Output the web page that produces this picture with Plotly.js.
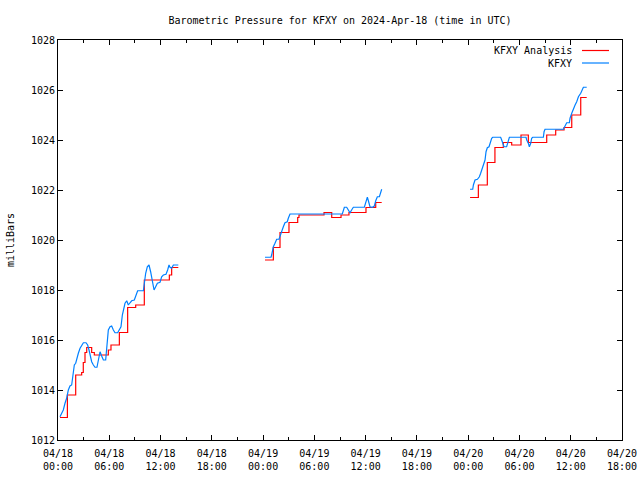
<!DOCTYPE html>
<html>
<head>
<meta charset="utf-8">
<script src="https://cdn.plot.ly/plotly-3.0.1.min.js"></script>
<style>html,body{margin:0;padding:0;background:#fff;}#chart{width:640px;height:480px;}</style>
</head>
<body>
<div id="chart"></div>
<script>
// Hours since 2024-04-18 00:00 UTC
// KFXY Analysis (step line), three segments
var anaHours1 = [0.23, 1.1, 2.07, 2.77, 2.96, 3.16, 3.36, 3.94, 4.25, 5.89, 6.2, 7.18, 8.15, 9.09, 10.1, 13.03, 13.3, 14.08];
var anaMb1    = [1012.9, 1013.8, 1014.6, 1014.7, 1015.1, 1015.5, 1015.7, 1015.5, 1015.4, 1015.6, 1015.8, 1016.3, 1017.3, 1017.4, 1018.4, 1018.6, 1018.9, 1018.9];
var anaHours2 = [24.22, 25.2, 25.98, 27.03, 28.05, 28.2, 31.13, 32.03, 33.12, 34.05, 36.04, 37.18, 37.88];
var anaMb2    = [1019.2, 1019.7, 1020.3, 1020.7, 1020.9, 1021.0, 1021.1, 1020.9, 1021.0, 1021.1, 1021.3, 1021.5, 1021.5];
var anaHours3 = [48.22, 49.19, 50.24, 51.13, 52.11, 53.09, 54.18, 55.04, 57.19, 58.24, 59.22, 60.12, 61.17, 61.87];
var anaMb3    = [1021.7, 1022.2, 1023.1, 1023.7, 1023.9, 1023.8, 1024.2, 1023.9, 1024.2, 1024.4, 1024.5, 1025.0, 1025.7, 1025.7];

// KFXY observations, three segments
var obsHours1 = [0.23,0.43,0.62,0.82,1.01,1.21,1.40,1.60,1.79,1.91,2.07,2.19,2.38,2.58,2.77,2.97,3.28,3.47,3.63,3.78,3.94,4.14,4.33,4.56,4.72,4.92,5.11,5.31,5.58,5.73,5.89,6.09,6.28,6.48,6.67,6.98,7.18,7.37,7.53,7.69,7.84,8.04,8.23,8.43,8.62,8.93,9.13,9.32,9.99,10.10,10.26,10.45,10.65,10.84,11.04,11.24,11.43,11.63,11.94,12.13,12.33,12.64,12.83,12.99,13.11,13.30,13.50,13.69,14.08];
var obsMb1    = [1012.93,1013.07,1013.2,1013.47,1013.67,1014.0,1014.16,1014.2,1014.73,1015.0,1015.07,1015.27,1015.47,1015.67,1015.8,1015.89,1015.89,1015.8,1015.6,1015.33,1015.13,1015.0,1014.91,1014.91,1015.13,1015.53,1015.36,1015.2,1015.2,1015.73,1016.4,1016.53,1016.56,1016.4,1016.29,1016.29,1016.4,1016.53,1017.0,1017.33,1017.47,1017.57,1017.4,1017.49,1017.57,1017.6,1017.8,1017.97,1017.97,1018.33,1018.67,1018.93,1019.0,1018.73,1018.27,1018.0,1018.13,1018.27,1018.31,1018.53,1018.6,1018.63,1018.8,1019.0,1018.91,1018.87,1019.0,1019.0,1019.0];
var obsHours2 = [24.22,24.93,25.0,25.2,25.39,25.59,25.86,25.98,26.17,26.37,26.56,26.83,26.95,27.15,33.27,33.39,33.51,33.78,33.97,34.17,34.36,34.56,35.85,36.0,36.2,36.32,36.51,36.78,37.02,37.18,37.37,37.61,37.76,37.88];
var obsMb2    = [1019.31,1019.31,1019.4,1019.73,1019.87,1020.03,1020.03,1020.16,1020.33,1020.53,1020.69,1020.73,1020.87,1021.04,1021.04,1021.2,1021.31,1021.31,1021.2,1021.09,1021.2,1021.31,1021.31,1021.53,1021.71,1021.57,1021.33,1021.31,1021.36,1021.57,1021.73,1021.73,1021.89,1022.03];
var obsHours3 = [48.22,48.53,48.61,48.8,49.08,49.31,49.46,49.66,49.85,49.97,50.09,50.24,50.44,50.55,50.75,50.87,51.80,51.92,52.03,52.19,52.5,52.7,52.82,54.77,54.85,55.04,55.16,55.32,55.43,55.55,56.8,56.88,56.99,59.14,59.33,59.53,59.84,59.92,60.12,60.31,60.51,60.7,60.9,61.17,61.48,61.87];
var obsMb3    = [1022.03,1022.03,1022.2,1022.4,1022.43,1022.53,1022.67,1022.87,1023.0,1023.2,1023.53,1023.69,1023.73,1023.87,1024.07,1024.11,1024.11,1024.0,1023.87,1023.73,1023.73,1023.93,1024.11,1024.11,1024.0,1023.87,1023.73,1023.87,1024.07,1024.11,1024.11,1024.33,1024.43,1024.43,1024.53,1024.69,1024.69,1024.87,1025.07,1025.27,1025.4,1025.53,1025.73,1025.87,1026.11,1026.11];

var tickHours  = [0, 6, 12, 18, 24, 30, 36, 42, 48, 54, 60, 66];
var tickLabels = ["04/18<br>00:00","04/18<br>06:00","04/18<br>12:00","04/18<br>18:00",
                  "04/19<br>00:00","04/19<br>06:00","04/19<br>12:00","04/19<br>18:00",
                  "04/20<br>00:00","04/20<br>06:00","04/20<br>12:00","04/20<br>18:00"];
var seriesNames = ["KFXY Analysis", "KFXY"];
var seriesColors = ["#ff0000", "#0080ff"];

function joinSegs(segs) {
  var out = [];
  segs.forEach(function (s, i) { if (i > 0) out.push(null); out = out.concat(s); });
  return out;
}

var anaX = joinSegs([anaHours1, anaHours2, anaHours3]);
var anaY = joinSegs([anaMb1, anaMb2, anaMb3]);
var obsX = joinSegs([obsHours1, obsHours2, obsHours3]);
var obsY = joinSegs([obsMb1, obsMb2, obsMb3]);

var font = {family: "DejaVu Sans Mono, monospace", size: 10, color: "#000"};

var traces = [
  {x: anaX, y: anaY, type: "scatter", mode: "lines", name: seriesNames[0],
   line: {color: seriesColors[0], width: 1.2, shape: "hv"}, connectgaps: false, showlegend: false},
  {x: obsX, y: obsY, type: "scatter", mode: "lines", name: seriesNames[1],
   line: {color: seriesColors[1], width: 1.2}, connectgaps: false, showlegend: false}
];

var layout = {
  width: 640, height: 480,
  margin: {l: 58, r: 18, t: 40, b: 40},
  paper_bgcolor: "#fff", plot_bgcolor: "#fff",
  font: font,
  title: {text: "Barometric Pressure for KFXY on 2024-Apr-18 (time in UTC)",
          font: font, x: 0.5, xref: "paper", y: 1 - 20/480, yref: "container", yanchor: "middle"},
  xaxis: {range: [0, 66], tickvals: tickHours, ticktext: tickLabels,
          showgrid: false, zeroline: false, showline: true, linecolor: "#000", linewidth: 1,
          mirror: "allticks", ticks: "inside", ticklen: 5, tickcolor: "#000",
          ticklabelstandoff: 4,
          minor: {dtick: 3, tick0: 0, ticks: "inside", ticklen: 3, tickcolor: "#000", showgrid: false},
          tickfont: font, fixedrange: true},
  yaxis: {range: [1012, 1028], dtick: 2, tick0: 1012,
          showgrid: false, zeroline: false, showline: true, linecolor: "#000", linewidth: 1,
          mirror: "allticks", ticks: "inside", ticklen: 5, tickcolor: "#000",
          tickfont: font, fixedrange: true,
          title: {text: "milliBars", font: font, standoff: 14}},
  annotations: [
    {xref: "paper", yref: "paper", x: (574 - 58) / 564, y: (440 - 50.5) / 400, xanchor: "right", yanchor: "middle",
     text: seriesNames[0], showarrow: false, font: font},
    {xref: "paper", yref: "paper", x: (574 - 58) / 564, y: (440 - 63) / 400, xanchor: "right", yanchor: "middle",
     text: seriesNames[1], showarrow: false, font: font}
  ],
  shapes: [
    {type: "line", xref: "paper", yref: "paper", x0: (582 - 58) / 564, x1: (609 - 58) / 564,
     y0: (440 - 50.5) / 400, y1: (440 - 50.5) / 400, line: {color: seriesColors[0], width: 1.2}},
    {type: "line", xref: "paper", yref: "paper", x0: (582 - 58) / 564, x1: (609 - 58) / 564,
     y0: (440 - 63) / 400, y1: (440 - 63) / 400, line: {color: seriesColors[1], width: 1.2}}
  ]
};

Plotly.newPlot("chart", traces, layout, {displayModeBar: false, staticPlot: true});
</script>
</body>
</html>
